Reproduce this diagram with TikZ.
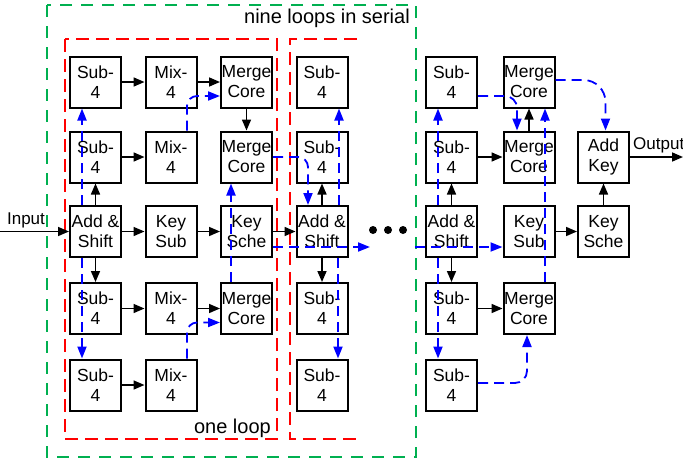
\documentclass[tikz,border=0pt]{standalone}
\usepackage{fontspec}
\setmainfont{Liberation Sans}
\usetikzlibrary{arrows.meta}
\definecolor{grn}{RGB}{0,176,80}
\begin{document}
\begin{tikzpicture}[x=1pt,y=-1pt,
  blk/.style={draw,line width=2pt,fill=white,minimum width=51pt,minimum height=51pt,inner sep=0pt,align=center,font=\fontsize{17.5}{20}\selectfont},
  arr/.style={line width=1.6pt,-{Triangle[length=11pt,width=9pt]}},
  barr/.style={blue,line width=1.8pt,dash pattern=on 10pt off 6pt,-{Triangle[length=12pt,width=9pt]}},
  lbl/.style={font=\fontsize{17}{20}\selectfont,inner sep=0pt},
  big/.style={font=\fontsize{20}{24}\selectfont,inner sep=0pt},
  redbox/.style={red,line width=1.5pt,dash pattern=on 13pt off 7pt},
  grnbox/.style={grn,line width=1.5pt,dash pattern=on 12pt off 9pt},
  dot/.style={circle,fill=black,inner sep=0pt,minimum size=8pt}]
\useasboundingbox (0,0) rectangle (683,461);
% frames
\draw[grnbox] (47,5) rectangle (416,457);
\draw[redbox] (65,39) rectangle (277,439);
\draw[redbox] (357,39) -- (290,39) -- (290,439) -- (357,439);
\node[big,anchor=east] (t1) at (410,18.5) {nine loops in serial};
\node[big,anchor=east] (t2) at (271,428.5) {one loop};
% loop 1
\node[blk] (s11) at (95.5,82) {Sub-\\4};
\node[blk] (mx11) at (171,82) {Mix-\\4};
\node[blk] (mc11) at (246.5,82) {Merge\\Core};
\node[blk] (s21) at (95.5,157) {Sub-\\4};
\node[blk] (mx21) at (171,157) {Mix-\\4};
\node[blk] (mc21) at (246.5,157) {Merge\\Core};
\node[blk] (as1) at (95.5,231.5) {Add \&\\Shift};
\node[blk] (kb1) at (171,231.5) {Key\\Sub};
\node[blk] (ks1) at (246.5,231.5) {Key\\Sche};
\node[blk] (s41) at (95.5,308.5) {Sub-\\4};
\node[blk] (mx41) at (171,308.5) {Mix-\\4};
\node[blk] (mc41) at (246.5,308.5) {Merge\\Core};
\node[blk] (s51) at (95.5,385) {Sub-\\4};
\node[blk] (mx51) at (171,385) {Mix-\\4};
% loop 2 column
\node[blk] (s12) at (322,82) {Sub-\\4};
\node[blk] (s22) at (322,157) {Sub-\\4};
\node[blk] (as2) at (322,231.5) {Add \&\\Shift};
\node[blk] (s42) at (322,308.5) {Sub-\\4};
\node[blk] (s52) at (322,385) {Sub-\\4};
% last part
\node[blk] (s13) at (451.5,82) {Sub-\\4};
\node[blk] (s23) at (451.5,157) {Sub-\\4};
\node[blk] (as3) at (451.5,231.5) {Add \&\\Shift};
\node[blk] (s43) at (451.5,308.5) {Sub-\\4};
\node[blk] (s53) at (451.5,385) {Sub-\\4};
\node[blk] (mc13) at (529,82) {Merge\\Core};
\node[blk] (mc23) at (529,157) {Merge\\Core};
\node[blk] (kb2) at (529,231.5) {Key\\Sub};
\node[blk] (mc43) at (529,308.5) {Merge\\Core};
\node[blk] (ak) at (603.5,157) {Add\\Key};
\node[blk] (ks2) at (603.5,231.5) {Key\\Sche};
% dots
\node[dot] (d1) at (373,230) {};
\node[dot] (d2) at (388,230) {};
\node[dot] (d3) at (403,230) {};
% labels and free ends
\node[lbl] (tin) at (26,220) {Input};
\node[lbl,anchor=west] (tout) at (633,145) {Output};
\coordinate (pin) at (0,231.5);
\coordinate (pout) at (683,157);
\coordinate (e1) at (370,247);
\coordinate (e2) at (415,247);
% black arrows
\draw[arr] (pin) -- (as1.west);
\draw[arr] (as1.east) -- (kb1.west);
\draw[arr] (kb1.east) -- (ks1.west);
\draw[arr] (ks1.east) -- (as2.west);
\draw[arr] (as1.north) -- (s21.south);
\draw[arr] (as1.south) -- (s41.north);
\draw[arr] (s11.east) -- (mx11.west);
\draw[arr] (mx11.east) -- (mc11.west);
\draw[arr] (mc11.south) -- (mc21.north);
\draw[arr] (s21.east) -- (mx21.west);
\draw[arr] (s41.east) -- (mx41.west);
\draw[arr] (mx41.east) -- (mc41.west);
\draw[arr] (s51.east) -- (mx51.west);
\draw[arr] (as2.north) -- (s22.south);
\draw[arr] (as2.south) -- (s42.north);
\draw[arr] (as3.north) -- (s23.south);
\draw[arr] (as3.south) -- (s43.north);
\draw[arr] (s23.east) -- (mc23.west);
\draw[arr] (mc23.north) -- (mc13.south);
\draw[arr] (s43.east) -- (mc43.west);
\draw[arr] (kb2.east) -- (ks2.west);
\draw[arr] (ks2.north) -- (ak.south);
\draw[arr] (ak.east) -- (pout);
% blue dashed data paths
\draw[barr] ([xshift=-13.5pt]as1.north) -- ([xshift=-13.5pt]s11.south);
\draw[barr] ([xshift=-13.5pt]as1.south) -- ([xshift=-13.5pt]s51.north);
\draw[barr,rounded corners=10pt] ([xshift=16pt]mx21.north) |- ([yshift=-14pt]mc11.west);
\draw[barr,rounded corners=10pt] ([xshift=16pt]mx51.north) |- ([yshift=-14pt]mc41.west);
\draw[barr] ([xshift=-15.5pt]mc41.north) -- ([xshift=-15.5pt]mc21.south);
\draw[barr] ([yshift=-15.5pt]ks1.east) -- (e1);
\draw[barr,rounded corners=10pt] (mc21.east) -| ([xshift=-14pt]as2.north);
\draw[barr] ([xshift=17pt]as2.north) -- ([xshift=17pt]s12.south);
\draw[barr] ([xshift=16pt]as2.south) -- ([xshift=16pt]s52.north);
\draw[barr] (e2) -- ([yshift=-15.5pt]kb2.west);
\draw[barr] ([xshift=-13.5pt]as3.north) -- ([xshift=-13.5pt]s13.south);
\draw[barr] ([xshift=-13.5pt]as3.south) -- ([xshift=-13.5pt]s53.north);
\draw[barr,rounded corners=12pt] ([yshift=-14pt]s13.east) -| ([xshift=-12pt]mc23.north);
\draw[barr] ([xshift=16pt]mc43.north) -- ([xshift=16pt]mc13.south);
\draw[barr,rounded corners=22pt] ([yshift=2pt]mc13.east) -| ([xshift=2pt]ak.north);
\draw[barr,rounded corners=12pt] ([yshift=2pt]s53.east) -| ([xshift=-2pt]mc43.south);
\end{tikzpicture}
\end{document}
